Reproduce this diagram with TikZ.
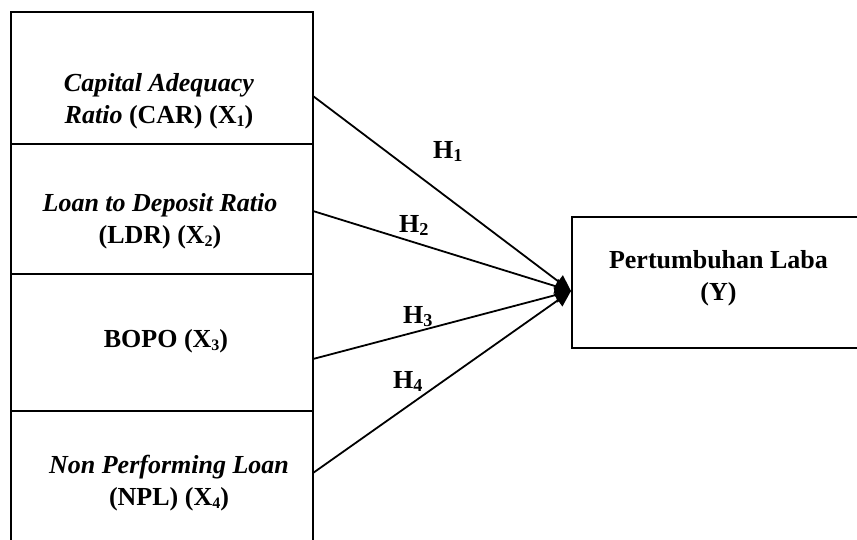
\documentclass[tikz,border=0pt]{standalone}
\usepackage{fontspec}
\setmainfont{Liberation Serif}
\usetikzlibrary{arrows.meta}
\newcommand{\xsub}[1]{\raisebox{-0.12em}{\fontsize{16}{16}\selectfont #1}}
\tikzset{
  box/.style={draw, line width=2pt, inner sep=0pt},
  lbl/.style={font=\fontsize{26}{32}\selectfont\bfseries, align=center, inner sep=0pt, anchor=base},
  hlbl/.style={font=\fontsize{26}{31}\selectfont\bfseries, inner sep=0pt, anchor=base west},
  arr/.style={line width=1.8pt, -{Triangle[length=16pt,width=15pt]}}
}
\begin{document}
\begin{tikzpicture}[x=1pt,y=-1pt]
\useasboundingbox (0,0) rectangle (857,539);
\clip (0,0) rectangle (857,539);
% boxes
\node[box, minimum width=302pt, minimum height=132pt] (b1) at (162,78) {};
\node[box, minimum width=302pt, minimum height=130pt] (b2) at (162,209) {};
\node[box, minimum width=302pt, minimum height=137pt] (b3) at (162,342.5) {};
\node[box, minimum width=302pt, minimum height=149pt] (b4) at (162,485.5) {};
\node[box, minimum width=298pt, minimum height=131pt] (y) at (721,282.5) {};
% texts (base = last line)
\node[lbl] (t1) at (159,123) {\textit{Capital Adequacy}\\\textit{Ratio} (CAR) (X\xsub{1})};
\node[lbl] (t2) at (160,243) {\textit{Loan to Deposit Ratio}\\(LDR) (X\xsub{2})};
\node[lbl] (t3) at (166,347) {BOPO (X\xsub{3})};
\node[lbl] (t4) at (169,505) {\textit{Non Performing Loan}\\(NPL) (X\xsub{4})};
\node[lbl] (ty) at (718.5,300) {Pertumbuhan Laba\\(Y)};
% connector end points
\coordinate (s1) at (313,96);
\coordinate (s2) at (313,211);
\coordinate (s3) at (313,359);
\coordinate (s4) at (313,473);
\coordinate (tg) at (y.west |- 0,291);
\draw[arr] (s1) -- (tg);
\draw[arr] (s2) -- (tg);
\draw[arr] (s3) -- (tg);
\draw[arr] (s4) -- (tg);
% hypothesis labels
\node[hlbl] (h1) at (433,158) {H\textsubscript{1}};
\node[hlbl] (h2) at (399,232) {H\textsubscript{2}};
\node[hlbl] (h3) at (403,323) {H\textsubscript{3}};
\node[hlbl] (h4) at (393,388) {H\textsubscript{4}};
\end{tikzpicture}
\end{document}
